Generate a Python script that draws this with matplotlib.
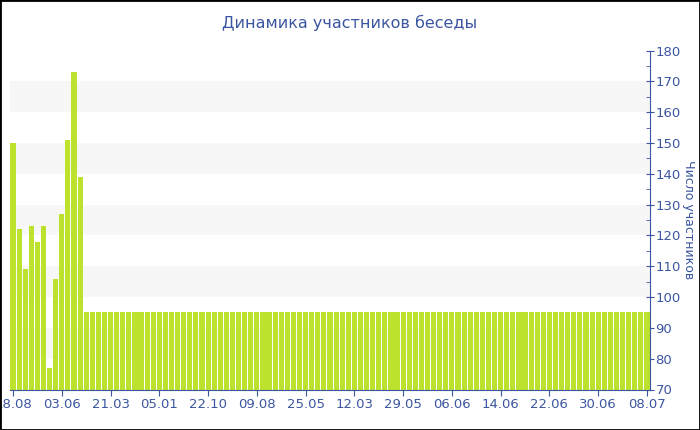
import matplotlib.pyplot as plt
import matplotlib.patches as patches
from matplotlib.ticker import MultipleLocator

# значения столбцов (число участников)
first_values = [150, 122, 109, 123, 118, 123, 77, 106, 127, 151, 173, 139]
flat_value = 95
flat_count = 93
values = first_values + [flat_value] * flat_count

# подписи по оси X (каждый 8-й столбец)
tick_labels = ['18.08', '03.06', '21.03', '05.01', '22.10', '09.08', '25.05',
               '12.03', '29.05', '06.06', '14.06', '22.06', '30.06', '08.07']
tick_step = 8
bands = [(80, 90), (100, 110), (120, 130), (140, 150), (160, 170)]

text_color = '#3b56a0'
bar_color = '#bde22d'

fig = plt.figure(figsize=(7, 4.3), dpi=100)
ax = fig.add_axes([10/700, 1-389.5/430, 640/700, 339/430])

for lo, hi in bands:
    ax.axhspan(lo, hi, color='#f7f7f7', zorder=0, lw=0)

x = list(range(len(values)))
ax.bar(x, values, width=0.84, color=bar_color, zorder=2)

ax.set_xlim(-0.5, len(values)-0.5)
ax.set_ylim(70, 180)
ax.set_xticks(x[::tick_step])
ax.set_xticklabels(tick_labels)

ax.yaxis.tick_right()
ax.yaxis.set_label_position('right')
ax.yaxis.set_major_locator(MultipleLocator(10))
ax.yaxis.set_minor_locator(MultipleLocator(5))
ax.set_ylabel('Число участников', color=text_color, fontsize=9, rotation=270,
              va='center')
ax.yaxis.set_label_coords(1.06, 0.5)

for s in ['top', 'left']:
    ax.spines[s].set_visible(False)
ax.spines['right'].set_color(text_color)
ax.spines['bottom'].set_color(text_color)
ax.tick_params(axis='y', which='major', colors=text_color, labelcolor=text_color,
               direction='inout', length=6, labelsize=9.5, pad=1)
ax.tick_params(axis='y', which='minor', colors=text_color, direction='in', length=3)
ax.tick_params(axis='x', colors=text_color, labelcolor=text_color, length=4,
               labelsize=9.5, pad=2)

fig.suptitle('Динамика участников беседы', color=text_color, fontsize=11.5, y=0.965)

# рамка вокруг картинки
fig.patches.append(patches.Rectangle((0, 0), 1, 1, transform=fig.transFigure,
                                     fill=False, edgecolor='black', linewidth=2))

fig.savefig('out.png', dpi=100)
